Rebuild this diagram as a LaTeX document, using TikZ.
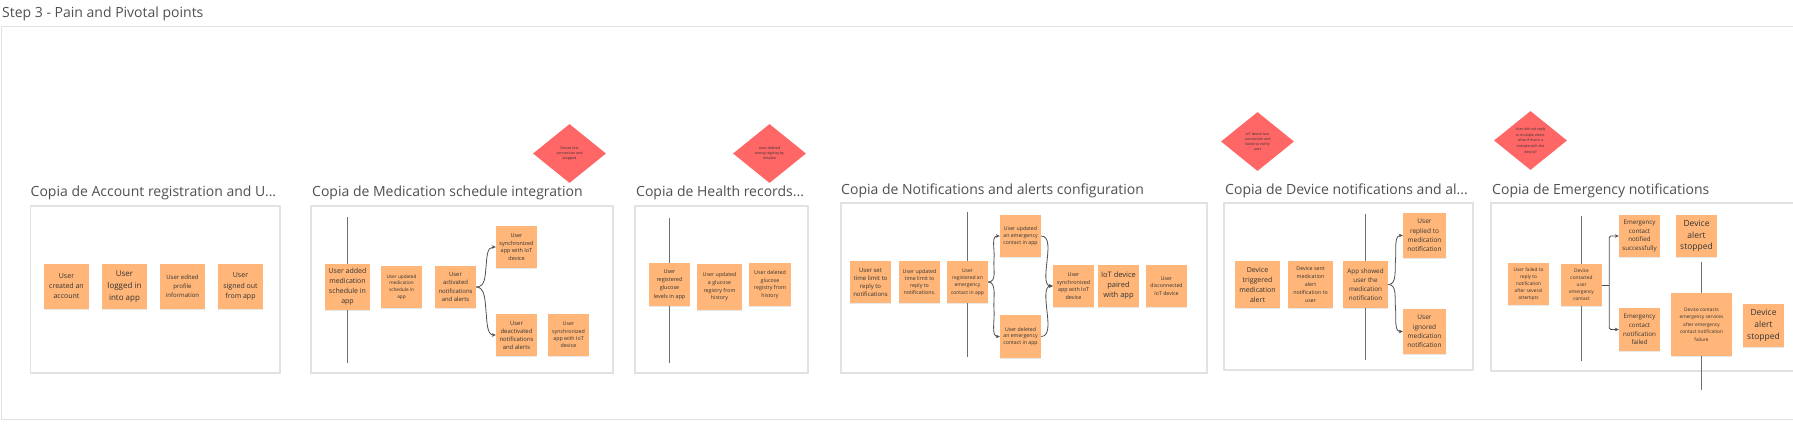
\documentclass[tikz,border=0pt]{standalone}
\usepackage{fontspec}
\setmainfont{Open Sans}
\usetikzlibrary{shapes.geometric,arrows.meta,calc,shadows}
\definecolor{stk}{RGB}{255,182,120}
\definecolor{pain}{RGB}{255,102,102}
\definecolor{ttl}{RGB}{80,80,80}
\definecolor{frm}{RGB}{226,226,226}
\definecolor{vln}{RGB}{110,110,110}
\definecolor{arr}{RGB}{80,80,80}
\newcommand\fsz[2]{\fontsize{#1}{#2}\selectfont}
\begin{document}
\begin{tikzpicture}[x=1pt,y=-1pt,
  sticky/.style={rectangle, fill=stk, inner sep=0pt, align=center, text=black!80,
    drop shadow={opacity=0.18, shadow xshift=0.4pt, shadow yshift=-1pt}},
  wh/.style 2 args={minimum width=#1pt, minimum height=#2pt},
  gtitle/.style={anchor=base west, inner sep=0pt, font=\fsz{14}{16}, text=ttl},
  gbox/.style={draw=frm, line width=1.4pt, fill=white},
  vline/.style={draw=vln, line width=0.9pt},
  painpt/.style={diamond, fill=pain, inner sep=0pt, minimum width=73pt, minimum height=59pt,
    align=center, font=\fsz{3.6}{5}, text=black!80},
  conn/.style={draw=arr, line width=0.8pt, -{Stealth[length=4pt,width=3.6pt]}},
  plain/.style={draw=arr, line width=0.8pt}
]
\useasboundingbox (0,0) rectangle (1793,426);
\clip (0,0) rectangle (1793,426);
\fill[white] (0,0) rectangle (1793,426);

% outer frame
\draw[frm, line width=1pt] (1800,26) -- (1,26) -- (1,419) -- (1800,419);
\node[anchor=base west, inner sep=0pt, font=\fsz{14}{16}, text=ttl] (steptitle) at (2,17) {Step 3 - Pain and Pivotal points};

% group boxes
\draw[gbox] (30.7,206) rectangle (280,373);
\draw[gbox] (311,206) rectangle (613,373);
\draw[gbox] (635,206) rectangle (808,373);
\draw[gbox] (841,203) rectangle (1207,373);
\draw[gbox] (1224,203) rectangle (1473,370);
\draw[gbox] (1491,203) rectangle (1810,371);

% group titles
\node[gtitle] (t1) at (30.5,196) {Copia de Account registration and U...};
\node[gtitle] (t2) at (312,196) {Copia de Medication schedule integration};
\node[gtitle] (t3) at (636,196) {Copia de Health records...};
\node[gtitle] (t4) at (841,194) {Copia de Notifications and alerts configuration};
\node[gtitle] (t5) at (1225,194) {Copia de Device notifications and al...};
\node[gtitle] (t6) at (1492,194) {Copia de Emergency notifications};

% vertical divider lines
\draw[vline] (347,217) -- (347,363);
\draw[vline] (669,218) -- (669,363);
\draw[vline] (967,212) -- (967,357);
\draw[vline] (1365,214) -- (1365,360);
\draw[vline] (1581,216) -- (1581,361);
\draw[vline] (1701,262) -- (1701,390);

% pain points
\node[painpt] (d1) at (569.5,153.5) {Device lost\\connection and\\stopped};
\node[painpt] (d2) at (769.5,153.5) {User deleted\\wrong registry by\\mistake};
\node[painpt] (d3) at (1257.5,141.5) {IoT device lost\\connection and\\failed to notify\\user};
\node[painpt, font=\fsz{3.6}{5.6}] (d4) at (1530.5,140.5) {User did not reply\\to multiple alerts,\\what if that is a\\mistake with the\\device?};

% group 1
\node[sticky, wh={45}{45}, font=\fsz{7}{10}] (s11) at (66.5,286.5) {User\\created an\\account};
\node[sticky, wh={45}{45}, font=\fsz{8}{11.7}] (s12) at (124.5,286.5) {User\\logged in\\into app};
\node[sticky, wh={45}{45}, font=\fsz{6}{9}] (s13) at (182.5,286.5) {User edited\\profile\\information};
\node[sticky, wh={45}{45}, font=\fsz{7}{10.5}] (s14) at (240.5,286.5) {User\\signed out\\from app};

% group 2
\node[sticky, wh={45}{46}, font=\fsz{7}{10}] (s21) at (347.5,287) {User added\\medication\\schedule in\\app};
\node[sticky, wh={41}{42}, font=\fsz{4.7}{6.7}] (s22) at (401.5,287) {User updated\\medication\\schedule in\\app};
\node[sticky, wh={41}{42}, font=\fsz{5.9}{8.3}] (s23) at (455.5,287) {User\\activated\\notifications\\and alerts};
\node[sticky, wh={41}{42}, font=\fsz{5.5}{7.8}] (s24) at (516.5,247) {User\\synchronized\\app with IoT\\device};
\node[sticky, wh={41}{42}, font=\fsz{5.9}{8}] (s25) at (516.5,335) {User\\deactivated\\notifications\\and alerts};
\node[sticky, wh={41}{42}, font=\fsz{5.3}{7.3}] (s26) at (568.5,335) {User\\synchronized\\app with IoT\\device};

% group 3
\node[sticky, wh={41}{43}, font=\fsz{5.5}{8.3}] (s31) at (669.5,284.5) {User\\registered\\glucose\\levels in app};
\node[sticky, wh={45}{46}, font=\fsz{5.3}{7.7}] (s32) at (719.5,287) {User updated\\a glucose\\registry from\\history};
\node[sticky, wh={42}{43}, font=\fsz{5.3}{7.5}] (s33) at (770,284.5) {User deleted\\glucose\\registry from\\history};

% group 4
\node[sticky, wh={41}{42}, font=\fsz{6}{8}] (s41) at (870.5,282) {User set\\time limit to\\reply to\\notifications};
\node[sticky, wh={41}{42}, font=\fsz{5.3}{7}] (s42) at (919.5,282) {User updated\\time limit to\\reply to\\notifications.};
\node[sticky, wh={41}{42}, font=\fsz{5}{7.3}] (s43) at (967.5,282) {User\\registered an\\emergency\\contact in app};
\node[sticky, wh={41}{42}, font=\fsz{5.2}{6.7}] (s44) at (1020.5,236) {User updated\\an emergency\\contact in app};
\node[sticky, wh={41}{43}, font=\fsz{5.2}{6.7}] (s45) at (1020.5,336.5) {User deleted\\an emergency\\contact in app};
\node[sticky, wh={41}{42}, font=\fsz{5.4}{7.7}] (s46) at (1073.5,286) {User\\synchronized\\app with IoT\\device};
\node[sticky, wh={41}{42}, font=\fsz{7.5}{10}] (s47) at (1118.5,286) {IoT device\\paired\\with app};
\node[sticky, wh={41}{42}, font=\fsz{5.2}{7.3}] (s48) at (1166.5,286) {User\\disconnected\\IoT device};

% group 5
\node[sticky, wh={45}{47}, font=\fsz{7}{10}] (s51) at (1257.5,284.5) {Device\\triggered\\medication\\alert};
\node[sticky, wh={45}{47}, font=\fsz{5.3}{7.8}] (s52) at (1310.5,284.5) {Device sent\\medication\\alert\\notification to\\user};
\node[sticky, wh={45}{47}, font=\fsz{6.3}{9}] (s53) at (1365.5,284.5) {App showed\\user the\\medication\\notification};
\node[sticky, wh={43}{45}, font=\fsz{6.5}{9.2}] (s54) at (1424.5,235.5) {User\\replied to\\medication\\notification};
\node[sticky, wh={43}{45}, font=\fsz{6.5}{9.2}] (s55) at (1424.5,331.5) {User\\ignored\\medication\\notification};

% group 6
\node[sticky, wh={41}{42}, font=\fsz{4.8}{7}] (s61) at (1528.5,284) {User failed to\\reply to\\notification\\after several\\attempts};
\node[sticky, wh={41}{42}, font=\fsz{4.8}{7}] (s62) at (1581.5,285) {Device\\contacted\\user\\emergency\\contact};
\node[sticky, wh={41}{42}, font=\fsz{6.2}{8.7}] (s63) at (1639.5,236) {Emergency\\contact\\notified\\successfully};
\node[sticky, wh={41}{43}, font=\fsz{6.2}{8.7}] (s64) at (1639.5,329.5) {Emergency\\contact\\notification\\failed};
\node[sticky, wh={41}{42}, font=\fsz{8.5}{11.7}] (s65) at (1696.5,236) {Device\\alert\\stopped};
\node[sticky, wh={61}{63}, font=\fsz{4.8}{7.5}] (s66) at (1701.5,324.5) {Device contacts\\emergency services\\after emergency\\contact notification\\failure};
\node[sticky, wh={41}{43}, font=\fsz{8.5}{11.7}] (s67) at (1763.5,325.5) {Device\\alert\\stopped};

% connectors group 2 (brace)
\draw[conn] (s23.east) .. controls +(9,0) and +(-1,10) .. ($(s23.east)!.5!(s24.west)$) .. controls +(1,-10) and +(-9,0) .. (s24.west);
\draw[conn] (s23.east) .. controls +(9,0) and +(-1,-10) .. ($(s23.east)!.5!(s25.west)$) .. controls +(1,10) and +(-9,0) .. (s25.west);

% connectors group 4
\draw[conn] (s43.east) .. controls +(9,0) and +(-1,10) .. ($(s43.east)!.5!(s44.west)$) .. controls +(1,-10) and +(-9,0) .. (s44.west);
\draw[conn] (s43.east) .. controls +(9,0) and +(-1,-10) .. ($(s43.east)!.5!(s45.west)$) .. controls +(1,10) and +(-9,0) .. (s45.west);
\draw[conn] (s44.east) .. controls +(9,0) and +(1,-10) .. ($(s44.east)!.5!(s46.west)$) .. controls +(-1,10) and +(-9,0) .. (s46.west);
\draw[conn] (s45.east) .. controls +(9,0) and +(1,10) .. ($(s45.east)!.5!(s46.west)$) .. controls +(-1,-10) and +(-9,0) .. (s46.west);

% connectors group 5
\draw[conn] (s53.east) .. controls +(9,0) and +(-1,10) .. ($(s53.east)!.5!(s54.west)$) .. controls +(1,-10) and +(-9,0) .. (s54.west);
\draw[conn] (s53.east) .. controls +(9,0) and +(-1,-10) .. ($(s53.east)!.5!(s55.west)$) .. controls +(1,10) and +(-9,0) .. (s55.west);

% connectors group 6 (elbow)
\coordinate (j6) at ($(s62.east)+(7,0)$);
\draw[plain] (s62.east) -- (j6);
\draw[conn, rounded corners=1.5pt] (j6) |- (s63.west);
\draw[conn, rounded corners=1.5pt] (j6) |- (s64.west);
\end{tikzpicture}
\end{document}
